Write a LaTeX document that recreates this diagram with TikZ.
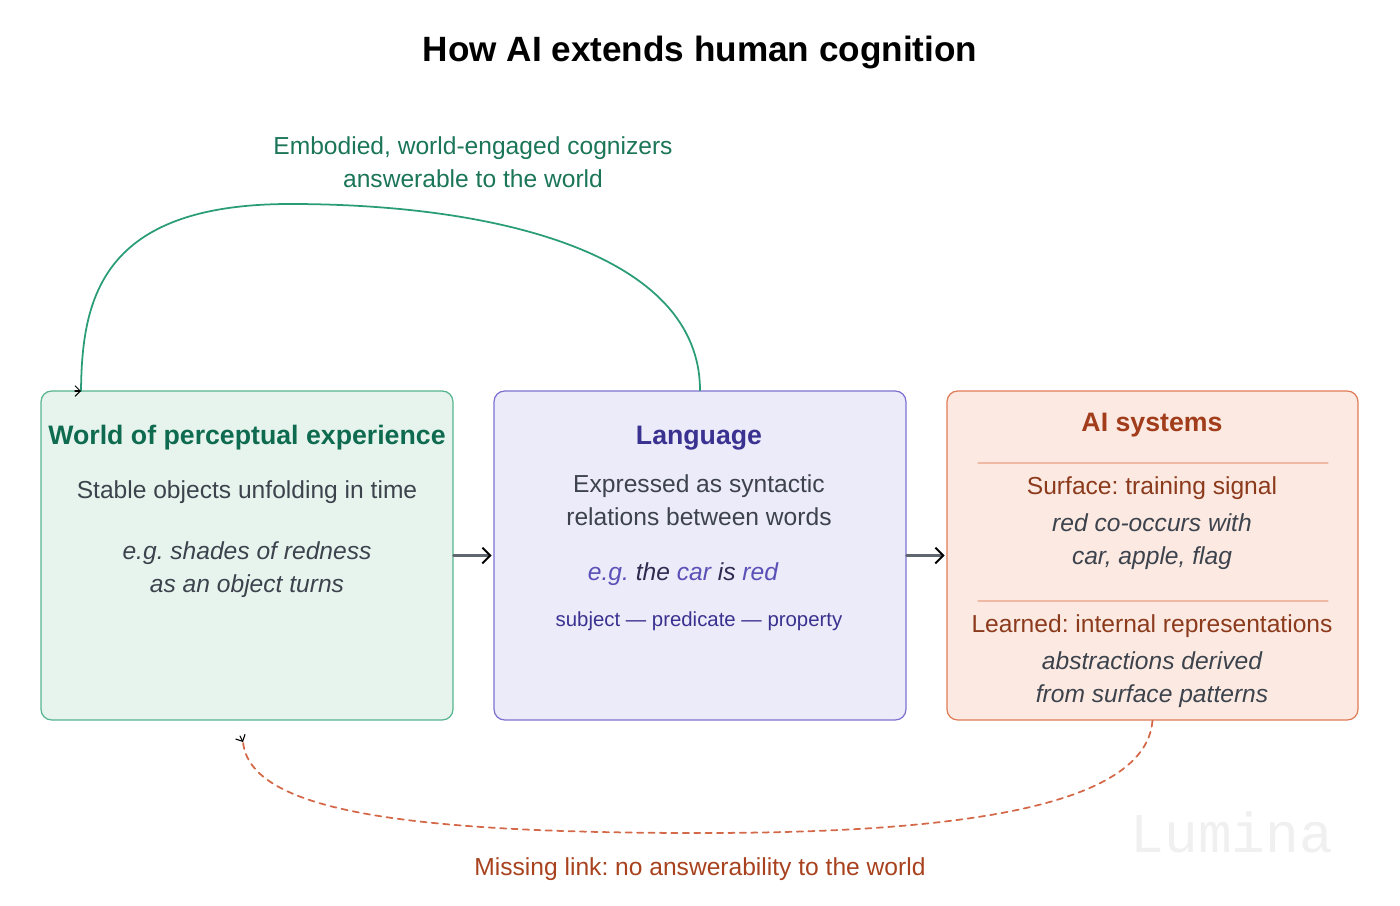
\documentclass[tikz,border=0pt]{standalone}
\usepackage{fontspec}
\setmainfont{Liberation Sans}
\newfontfamily\markfont{Liberation Mono}
\usepackage{xcolor}
\usetikzlibrary{arrows.meta}
\usetikzlibrary{positioning}
\usetikzlibrary{calc}
\frenchspacing

\definecolor{bodygray}{HTML}{3D434D}
\definecolor{worldfill}{HTML}{E7F4EE}
\definecolor{worlddraw}{HTML}{55B58E}
\definecolor{worldhead}{HTML}{0F6B4F}
\definecolor{langfill}{HTML}{ECEBF9}
\definecolor{langdraw}{HTML}{7D72D0}
\definecolor{langhead}{HTML}{3A3290}
\definecolor{langacc}{HTML}{5A50B8}
\definecolor{langdark}{HTML}{2E2B50}
\definecolor{aifill}{HTML}{FCEAE2}
\definecolor{aidraw}{HTML}{E07B57}
\definecolor{aihead}{HTML}{A13D1A}
\definecolor{aisub}{HTML}{8C3A1C}
\definecolor{airulec}{HTML}{EFB9A3}
\definecolor{arcgreen}{HTML}{2A9D78}
\definecolor{arclabel}{HTML}{1B7558}
\definecolor{missred}{HTML}{D4694A}
\definecolor{misslabel}{HTML}{A8421E}
\definecolor{flowgray}{HTML}{5F6670}
\definecolor{markgray}{HTML}{F0F0F0}

\tikzset{
  box/.style={draw,rounded corners=6pt,line width=0.7pt,minimum width=8.24cm,minimum height=6.58cm,inner sep=0pt},
  txt/.style={inner sep=0pt,text=bodygray,font=\fontsize{14}{18.8}\selectfont,align=center},
  head/.style={inner sep=0pt,font=\bfseries\fontsize{15.2}{18}\selectfont},
  flow/.style={line width=1.5pt,flowgray,shorten >=1pt,-{Straight Barb[black,line width=1.1pt,length=4.5pt,width=9pt]}},
  tipmark/.style={line width=0.6pt,black,-{Straight Barb[length=3pt,width=6pt]}}
}

\begin{document}
\begin{tikzpicture}[line cap=round,line join=round,x=0.02cm,y=-0.02cm]
\useasboundingbox (0,0) rectangle (1400,906);
% title
\node[font=\bfseries\fontsize{20}{24}\selectfont] (title) at (700,52) {How AI extends human cognition};
% the three boxes
\node[box,draw=worlddraw,fill=worldfill] (world) at (247,555.5) {};
\node[box,draw=langdraw,fill=langfill] (lang) at (700,555.5) {};
\node[box,draw=aidraw,fill=aifill,minimum width=8.22cm] (ai) at (1152.5,555.5) {};
% world of perceptual experience
\node[head,text=worldhead] (whead) at (247,438) {World of perceptual experience};
\node[txt] (wsub) at (247,492) {Stable objects unfolding in time};
\node[txt,font=\itshape\fontsize{14}{18.8}\selectfont] (wex) at (247,570) {e.g. shades of redness\\as an object turns};
% language
\node[head,text=langhead] (lhead) at (699,438) {Language};
\node[txt] (lsub) at (699,500) {Expressed as syntactic\\relations between words};
\node[txt,text=langdark,font=\itshape\fontsize{14}{18.8}\selectfont] (lex) at (683,574) {\textcolor{langacc}{e.g.} the \textcolor{langacc}{car} is \textcolor{langacc}{red}};
\node[txt,text=langhead,font=\fontsize{11.6}{14}\selectfont] (lrel) at (699,621) {subject --- predicate --- property};
% AI systems
\node[head,text=aihead] (ahead) at (1152,425) {AI systems};
\draw[airulec,line width=0.6pt] (978,463) -- (1328,463);
\node[txt,text=aisub] (asurf) at (1152,488) {Surface: training signal};
\node[txt,font=\itshape\fontsize{14}{18.8}\selectfont] (asex) at (1152,541.5) {red co-occurs with\\car, apple, flag};
\draw[airulec,line width=0.6pt] (978,601) -- (1328,601);
\node[txt,text=aisub] (alearn) at (1152,626) {Learned: internal representations};
\node[txt,font=\itshape\fontsize{14}{18.8}\selectfont] (alex) at (1152,679.5) {abstractions derived\\from surface patterns};
% flow between the boxes
\draw[flow] (world.east) -- (lang.west);
\draw[flow] (lang.east) -- (ai.west);
% loop back over the top
\coordinate (wtip) at (81,391);
\draw[arcgreen,line width=1pt] (lang.north) .. controls (700,255) and (500,204) .. (290,204) .. controls (100,204) and (82,300) .. (wtip);
\draw[tipmark] ($(wtip)+(-6,0)$) -- (wtip);
\node[txt,text=arclabel] (arclab) at (473,162.5) {Embodied, world-engaged cognizers\\answerable to the world};
% missing link underneath
\coordinate (mtip) at (243,742);
\draw[missred,line width=1pt,dash pattern=on 3.5pt off 3pt] (ai.south) .. controls (1145,815) and (920,833) .. (700,833) .. controls (400,833) and (250,810) .. (mtip);
\draw[tipmark] ($(mtip)+(-3,-6)$) -- (mtip);
\node[txt,text=misslabel] (misslab) at (700,869) {Missing link: no answerability to the world};
% watermark
\node[inner sep=0pt,text=markgray,font=\markfont\fontsize{32}{32}\selectfont] (mark) at (1232,832) {Lumina};
\end{tikzpicture}
\end{document}
